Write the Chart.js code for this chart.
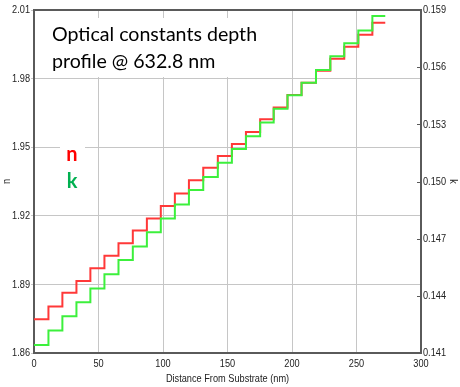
<!DOCTYPE html>
<html><head><meta charset="utf-8">
<script src="https://cdn.jsdelivr.net/npm/chart.js@4/dist/chart.umd.min.js"></script>
<style>html,body{margin:0;padding:0;background:#fff}</style>
</head><body>
<canvas id="c" width="460" height="387"></canvas>
<script>
// Layer start positions (nm from substrate) and the optical constants of each layer
const layerStart = [0, 11.2, 22.0, 32.9, 43.7, 54.6, 65.5, 76.6, 87.5, 98.3, 109.2, 120.1, 131.2, 142.5, 153.4, 164.3, 175.3, 185.8, 196.5, 207.4, 218.6, 229.7, 240.5, 251.4, 262.3];
const profileEnd = 272.3;
const nValues = [1.8748, 1.8803, 1.8863, 1.8915, 1.8971, 1.9025, 1.9080, 1.9136, 1.9188, 1.9243, 1.9298, 1.9355, 1.9410, 1.9462, 1.9514, 1.9567, 1.9622, 1.9674, 1.9728, 1.9782, 1.9834, 1.9887, 1.9939, 1.9992, 2.0044];
const kValues = [0.14142, 0.14218, 0.14293, 0.14366, 0.14438, 0.14513, 0.14588, 0.14659, 0.14734, 0.14806, 0.14879, 0.14955, 0.15024, 0.15098, 0.15171, 0.15237, 0.15310, 0.15382, 0.15452, 0.15518, 0.15585, 0.15657, 0.15725, 0.15793, 0.15868];
const xTicks = [0, 50, 100, 150, 200, 250, 300];
const nTicks = [1.86, 1.89, 1.92, 1.95, 1.98, 2.01];
const kTicks = [0.141, 0.144, 0.147, 0.150, 0.153, 0.156, 0.159];
const titleLines = ['Optical constants depth', 'profile @ 632.8 nm'];

const toPts = vals => layerStart.map((x, i) => ({x: x, y: vals[i]}))
  .concat([{x: profileEnd, y: vals[vals.length - 1]}]);

const AX = '#5a5a5a', GRID = '#c6c6c6';
const tickFont = {family: "'Liberation Sans Narrow','Liberation Sans',Arial,sans-serif", size: 11.5};

// Axis text in the reference is a condensed face: draw it horizontally compressed
const canvas = document.getElementById('c');
const ctx0 = canvas.getContext('2d');
const origFill = ctx0.fillText;
ctx0.fillText = function (t, x, y, mw) {
  if (String(this.font).indexOf('Narrow') >= 0) {
    this.save(); this.translate(x, y); this.scale(0.8, 1);
    origFill.call(this, t, 0, 0);
    this.restore();
  } else {
    if (mw === undefined) origFill.call(this, t, x, y); else origFill.call(this, t, x, y, mw);
  }
};

const deco = {
  id: 'deco',
  beforeDatasetsDraw(chart) {
    const ctx = chart.ctx;
    ctx.save();
    ctx.fillStyle = '#fff';
    ctx.fillRect(40, 18, 225, 59);
    ctx.fillRect(60, 140, 25, 55);
    ctx.restore();
  },
  afterDatasetsDraw(chart) {
    const {ctx, chartArea: a} = chart;
    ctx.save();
    ctx.strokeStyle = AX; ctx.lineWidth = 2;
    ctx.beginPath();
    ctx.moveTo(a.left, a.top); ctx.lineTo(a.right, a.top); ctx.lineTo(a.right, a.bottom);
    ctx.stroke();
    // inward tick marks on the k axis
    const s = chart.scales.y1;
    ctx.lineWidth = 1;
    ctx.beginPath();
    kTicks.forEach(v => { const y = Math.round(s.getPixelForValue(v)) + 0.5; ctx.moveTo(a.right - 4, y); ctx.lineTo(a.right, y); });
    ctx.stroke();
    ctx.fillStyle = '#000';
    ctx.font = '19.6px Lato';
    ctx.textBaseline = 'alphabetic';
    ctx.fillText(titleLines[0], 52, 41);
    ctx.fillText(titleLines[1], 52, 68);
    ctx.font = 'bold 20px Lato';
    ctx.textAlign = 'center';
    ctx.fillStyle = '#ff0000'; ctx.fillText('n', 72, 161);
    ctx.fillStyle = '#00b050'; ctx.fillText('k', 72, 188);
    ctx.restore();
  }
};

new Chart(canvas, {
  type: 'line',
  data: {
    datasets: [
      {label: 'k', data: toPts(kValues), yAxisID: 'y1', stepped: 'before', borderColor: '#3cf03c', borderWidth: 2, pointRadius: 0, fill: false, order: 0},
      {label: 'n', data: toPts(nValues), yAxisID: 'y', stepped: 'before', borderColor: '#ff3838', borderWidth: 2, pointRadius: 0, fill: false, order: 1}
    ]
  },
  options: {
    responsive: false,
    animation: false,
    events: [],
    layout: {padding: {top: 10, left: 0, right: 0, bottom: 0}},
    plugins: {legend: {display: false}, tooltip: {enabled: false}},
    scales: {
      x: {
        type: 'linear', min: 0, max: 300,
        afterBuildTicks: s => { s.ticks = xTicks.map(v => ({value: v})); },
        afterFit: s => { s.height = 34; },
        grid: {color: GRID, lineWidth: 1, drawTicks: false},
        border: {color: AX, width: 2},
        ticks: {font: tickFont, color: '#222', padding: 4, maxRotation: 0, autoSkip: false},
        title: {display: true, text: 'Distance From Substrate (nm)', font: tickFont, color: '#222', padding: {top: 0, bottom: 1}}
      },
      y: {
        type: 'linear', position: 'left', min: 1.86, max: 2.01,
        afterBuildTicks: s => { s.ticks = nTicks.map(v => ({value: v})); },
        afterFit: s => { s.width = 34; },
        grid: {color: GRID, lineWidth: 1, tickLength: 3},
        border: {color: AX, width: 2},
        ticks: {font: tickFont, color: '#222', padding: 1, autoSkip: false, callback: v => v.toFixed(2)},
        title: {display: true, text: 'n', font: tickFont, color: '#222', padding: 0}
      },
      y1: {
        type: 'linear', position: 'right', min: 0.141, max: 0.159,
        afterBuildTicks: s => { s.ticks = kTicks.map(v => ({value: v})); },
        afterFit: s => { s.width = 39; },
        grid: {drawOnChartArea: false, drawTicks: false},
        border: {color: AX, width: 2},
        ticks: {font: tickFont, color: '#222', padding: 2, autoSkip: false, callback: v => v.toFixed(3)},
        title: {display: true, text: 'k', font: tickFont, color: '#222', padding: 0}
      }
    }
  },
  plugins: [deco]
});
</script>
</body></html>
